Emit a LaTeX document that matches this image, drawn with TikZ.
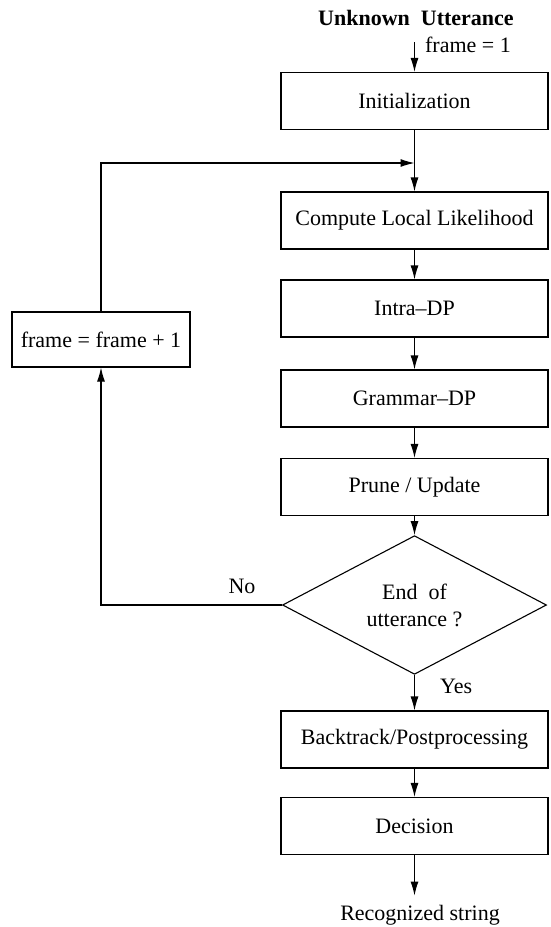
\documentclass[tikz,border=0pt]{standalone}
\usepackage{fontspec}
\setmainfont{Liberation Serif}
\usetikzlibrary{arrows.meta,shapes.geometric}
\begin{document}
\begin{tikzpicture}[x=1pt,y=-1pt,
  every node/.style={font=\fontsize{22}{27}\selectfont},
  box/.style={draw,line width=1.1pt,minimum width=267pt,minimum height=57pt,inner sep=0pt},
  txt/.style={inner sep=0pt},
  arr/.style={line width=1.1pt,-{Latex[length=14pt,width=8pt]}},
  ln/.style={line width=1.1pt}]
\useasboundingbox (0,0) rectangle (551,927);
\node[txt,anchor=base] (title) at (416,25) {\bfseries Unknown\ \ Utterance};
\node[txt,anchor=base] (f1) at (468,52) {frame = 1};
\coordinate (start) at (414.5,42);
\node[box] (init) at (414.5,101) {Initialization};
\coordinate (join) at (414.5,163);
\node[box] (comp) at (414.5,220.5) {Compute Local Likelihood};
\node[box] (intra) at (414.5,308.5) {Intra--DP};
\node[box] (gram) at (414.5,398.5) {Grammar--DP};
\node[box] (prune) at (414.5,487) {Prune / Update};
\node[diamond,draw,line width=1.1pt,minimum width=264pt,minimum height=116pt,inner sep=0pt,align=center] (diam) at (414.5,605) {End\ \ of\\utterance ?};
\node[box] (back) at (414.5,739.5) {Backtrack/Postprocessing};
\node[box] (dec) at (414.5,826) {Decision};
\node[txt,anchor=base] (rec) at (420,920) {Recognized string};
\node[box,minimum width=178pt,minimum height=55pt] (frame) at (101,339.5) {frame = frame + 1};
\node[txt,anchor=base] (no) at (242,593) {No};
\node[txt,anchor=base west] (yes) at (440,693) {Yes};
\draw[arr] (start) -- (init);
\draw[ln] (init) -- (join);
\draw[arr] (init) -- (comp);
\draw[arr] (comp) -- (intra);
\draw[arr] (intra) -- (gram);
\draw[arr] (gram) -- (prune);
\draw[arr] (prune) -- (diam.north);
\draw[arr] (diam.south) -- (back);
\draw[arr] (back) -- (dec);
\draw[arr,shorten >=9pt] (dec.south) -- (dec.south |- rec.north);
\draw[arr] (diam.west) -| (frame.south);
\draw[arr] (frame.north) |- (join);
\end{tikzpicture}
\end{document}
